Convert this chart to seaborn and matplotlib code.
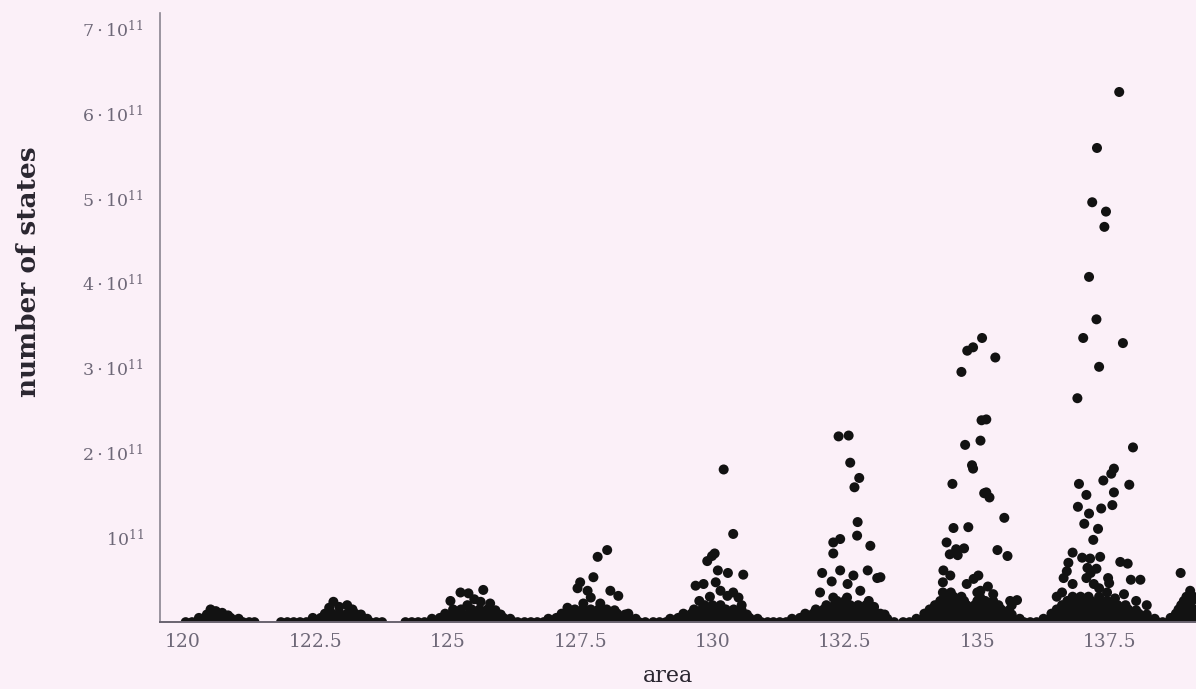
import matplotlib
matplotlib.use("Agg")
import matplotlib.pyplot as plt
import seaborn as sns
import pandas as pd
from matplotlib.ticker import FuncFormatter

sns.set_style("white")
plt.rcParams["font.family"] = ["DejaVu Serif"]
plt.rcParams["mathtext.fontset"] = "dejavuserif"

# =====================================================
# DATA  (area, number of states / 1e11), one list per cluster
# =====================================================
c120 = [
    (120.05, 0), (120.17, 0), (120.29, 0), (120.41, 0), (120.53, 0), (120.65, 0),
    (120.77, 0), (120.89, 0), (121.01, 0), (121.13, 0), (121.25, 0), (121.35, 0),
    (120.3, .05), (120.45, .05), (120.6, .05), (120.75, .05), (120.9, .05), (121.05, .04),
    (120.45, .09), (120.58, .09), (120.72, .09), (120.85, .08),
    (120.52, .15), (120.62, .13), (120.74, .11),
]
c122 = [
    (121.85, 0), (121.97, 0), (122.09, 0), (122.21, 0), (122.33, 0), (122.45, 0),
    (122.57, 0), (122.69, 0), (122.81, 0), (122.93, 0), (123.05, 0), (123.17, 0),
    (123.29, 0), (123.41, 0), (123.53, 0), (123.65, 0), (123.76, 0),
    (122.45, .05), (122.6, .05), (122.75, .05), (122.9, .05), (123.05, .05),
    (123.2, .05), (123.35, .05), (123.48, .04),
    (122.68, .1), (122.82, .1), (122.96, .1), (123.1, .1), (123.25, .1), (123.36, .09),
    (122.84, .24), (122.76, .17), (122.95, .18), (123.1, .2), (123.2, .15),
]
c125 = [
    (124.2, 0), (124.32, 0), (124.44, 0), (124.56, 0), (124.68, 0), (124.8, 0),
    (124.92, 0), (125.04, 0), (125.16, 0), (125.28, 0), (125.4, 0), (125.52, 0),
    (125.64, 0), (125.76, 0), (125.88, 0), (126.0, 0), (126.12, 0), (126.24, 0), (126.32, 0),
    (124.7, .04), (124.85, .05), (125.0, .05), (125.15, .05), (125.3, .05), (125.45, .05),
    (125.6, .05), (125.75, .05), (125.9, .05), (126.05, .05), (126.18, .04),
    (124.95, .1), (125.1, .1), (125.25, .1), (125.4, .1), (125.55, .1), (125.7, .1),
    (125.85, .1), (126.0, .09),
    (125.1, .15), (125.25, .15), (125.45, .15), (125.6, .15), (125.75, .15), (125.9, .14),
    (125.67, .38), (125.24, .35), (125.39, .34), (125.05, .25), (125.62, .24),
    (125.8, .22), (125.37, .2), (125.5, .27),
]
c127 = [
    (126.45, 0), (126.57, 0), (126.69, 0), (126.81, 0), (126.93, 0), (127.05, 0),
    (127.17, 0), (127.29, 0), (127.41, 0), (127.53, 0), (127.65, 0), (127.77, 0),
    (127.89, 0), (128.01, 0), (128.13, 0), (128.25, 0), (128.37, 0), (128.49, 0),
    (128.61, 0), (128.73, 0),
    (126.9, .04), (127.05, .05), (127.2, .05), (127.35, .05), (127.5, .05), (127.65, .05),
    (127.8, .05), (127.95, .05), (128.1, .05), (128.25, .05), (128.4, .05), (128.55, .04),
    (127.15, .1), (127.3, .1), (127.45, .1), (127.6, .1), (127.75, .1), (127.9, .1),
    (128.05, .1), (128.2, .1), (128.35, .09),
    (127.4, .15), (127.55, .15), (127.7, .15), (127.85, .15), (128.0, .15), (128.15, .14),
    (128.01, .85), (127.83, .77), (127.75, .53), (127.5, .47), (127.45, .4),
    (127.64, .37), (128.07, .37), (128.22, .31), (127.7, .29), (127.88, .22),
    (127.26, .17), (127.56, .22), (128.41, .1),
]
c130 = [
    (128.88, 0), (129.0, 0), (129.12, 0), (129.24, 0), (129.36, 0), (129.48, 0),
    (129.6, 0), (129.72, 0), (129.84, 0), (129.96, 0), (130.08, 0), (130.2, 0),
    (130.32, 0), (130.44, 0), (130.56, 0), (130.68, 0), (130.8, 0), (130.92, 0), (131.04, 0),
    (129.2, .04), (129.35, .05), (129.5, .05), (129.65, .05), (129.8, .05), (129.95, .05),
    (130.1, .05), (130.25, .05), (130.4, .05), (130.55, .05), (130.7, .05), (130.85, .04),
    (129.45, .1), (129.6, .1), (129.75, .1), (129.9, .1), (130.05, .1), (130.2, .1),
    (130.35, .1), (130.5, .1), (130.65, .09),
    (129.65, .15), (129.8, .15), (129.95, .15), (130.1, .15), (130.25, .15), (130.4, .15),
    (130.55, .14), (129.85, .2), (130.0, .2), (130.15, .2),
    (130.21, 1.80), (130.39, 1.04), (129.99, .78), (129.9, .72), (130.04, .81),
    (130.1, .61), (130.29, .58), (130.58, .56), (129.68, .43), (129.83, .45),
    (130.06, .47), (130.39, .35), (130.49, .29), (130.15, .37), (130.28, .31),
    (129.95, .3), (129.75, .25), (130.55, .2),
]
c132 = [
    (131.15, 0), (131.27, 0), (131.39, 0), (131.51, 0), (131.63, 0), (131.75, 0),
    (131.87, 0), (131.99, 0), (132.11, 0), (132.23, 0), (132.35, 0), (132.47, 0),
    (132.59, 0), (132.71, 0), (132.83, 0), (132.95, 0), (133.07, 0), (133.19, 0),
    (133.31, 0), (133.43, 0),
    (131.5, .04), (131.65, .05), (131.8, .05), (131.95, .05), (132.1, .05), (132.25, .05),
    (132.4, .05), (132.55, .05), (132.7, .05), (132.85, .05), (133.0, .05), (133.15, .05),
    (133.3, .04),
    (131.75, .1), (131.9, .1), (132.05, .1), (132.2, .1), (132.35, .1), (132.5, .1),
    (132.65, .1), (132.8, .1), (132.95, .1), (133.1, .1), (133.25, .09),
    (131.95, .15), (132.1, .15), (132.25, .15), (132.4, .15), (132.55, .15), (132.7, .15),
    (132.85, .15), (133.0, .15),
    (132.15, .2), (132.3, .2), (132.45, .2), (132.6, .2), (132.75, .2), (132.9, .2),
    (133.05, .18), (132.35, .25), (132.5, .25), (132.95, .25),
    (132.38, 2.19), (132.57, 2.20), (132.6, 1.88), (132.77, 1.70), (132.68, 1.59),
    (132.74, 1.18), (132.28, .94), (132.41, .98), (132.73, 1.02), (132.98, .9),
    (132.28, .81), (132.07, .58), (132.41, .61), (132.66, .55), (132.93, .61),
    (133.11, .52), (133.17, .53), (132.79, .37), (132.03, .35), (132.28, .29),
    (132.54, .29), (133.04, .17), (133.17, .1), (132.55, .45), (132.25, .48),
]
c135 = [
    (133.6, 0), (133.72, 0), (133.84, 0), (133.96, 0), (134.08, 0), (134.2, 0),
    (134.32, 0), (134.44, 0), (134.56, 0), (134.68, 0), (134.8, 0), (134.92, 0),
    (135.04, 0), (135.16, 0), (135.28, 0), (135.4, 0), (135.52, 0), (135.64, 0),
    (135.76, 0), (135.88, 0),
    (133.85, .04), (134.0, .05), (134.15, .05), (134.3, .05), (134.45, .05), (134.6, .05),
    (134.75, .05), (134.9, .05), (135.05, .05), (135.2, .05), (135.35, .05), (135.5, .05),
    (135.65, .05), (135.8, .04),
    (134.0, .1), (134.15, .1), (134.3, .1), (134.45, .1), (134.6, .1), (134.75, .1),
    (134.9, .1), (135.05, .1), (135.2, .1), (135.35, .1), (135.5, .1), (135.65, .09),
    (134.1, .15), (134.25, .15), (134.4, .15), (134.55, .15), (134.7, .15), (134.85, .15),
    (135.0, .15), (135.15, .15), (135.3, .15), (135.45, .15), (135.6, .14),
    (134.2, .2), (134.35, .2), (134.5, .2), (134.65, .2), (134.8, .2), (134.95, .2),
    (135.1, .2), (135.25, .2), (135.4, .2),
    (134.3, .25), (134.45, .25), (134.6, .25), (134.75, .25), (135.0, .25), (135.15, .25),
    (135.3, .25), (134.4, .3), (134.55, .3), (134.7, .3), (135.05, .3),
    (134.35, .35), (134.5, .35), (135.0, .35),
    (135.09, 3.35), (134.92, 3.24), (134.81, 3.20), (135.34, 3.12), (134.70, 2.95),
    (135.08, 2.38), (135.17, 2.39), (134.77, 2.09), (135.06, 2.14), (134.9, 1.85),
    (134.92, 1.81), (134.53, 1.63), (135.17, 1.53), (135.23, 1.47), (135.13, 1.52),
    (135.51, 1.23), (134.55, 1.11), (134.83, 1.12), (134.42, .94), (134.6, .86),
    (134.75, .87), (134.48, .8), (134.63, .79), (135.38, .85), (135.57, .78),
    (134.36, .61), (134.49, .55), (134.93, .51), (135.02, .55), (135.75, .26),
    (135.65, .2), (135.62, .25), (134.35, .47), (134.8, .45), (135.2, .42),
    (135.06, .37), (135.3, .33),
]
c137 = [
    (136.0, 0), (136.12, 0), (136.24, 0), (136.36, 0), (136.48, 0), (136.6, 0),
    (136.72, 0), (136.84, 0), (136.96, 0), (137.08, 0), (137.2, 0), (137.32, 0),
    (137.44, 0), (137.56, 0), (137.68, 0), (137.8, 0), (137.92, 0), (138.04, 0),
    (138.16, 0), (138.28, 0), (138.4, 0),
    (136.25, .04), (136.4, .05), (136.55, .05), (136.7, .05), (136.85, .05), (137.0, .05),
    (137.15, .05), (137.3, .05), (137.45, .05), (137.6, .05), (137.75, .05), (137.9, .05),
    (138.05, .05), (138.2, .05), (138.35, .04),
    (136.4, .1), (136.55, .1), (136.7, .1), (136.85, .1), (137.0, .1), (137.15, .1),
    (137.3, .1), (137.45, .1), (137.6, .1), (137.75, .1), (137.9, .1), (138.05, .1),
    (138.2, .09),
    (136.5, .15), (136.65, .15), (136.8, .15), (136.95, .15), (137.1, .15), (137.25, .15),
    (137.4, .15), (137.55, .15), (137.7, .15), (137.85, .15), (138.0, .14),
    (136.6, .2), (136.75, .2), (136.9, .2), (137.05, .2), (137.2, .2), (137.35, .2),
    (137.5, .2), (137.65, .2), (137.8, .2),
    (136.7, .25), (136.85, .25), (137.0, .25), (137.15, .25), (137.3, .25), (137.45, .25),
    (136.8, .3), (136.95, .3), (137.1, .3), (137.3, .3),
    (137.68, 6.25), (137.26, 5.59), (137.17, 4.95), (137.43, 4.84), (137.40, 4.66),
    (137.11, 4.07), (137.25, 3.57), (137.0, 3.35), (137.75, 3.29), (137.30, 3.01),
    (136.89, 2.64), (137.94, 2.06), (137.58, 1.81), (137.53, 1.75), (136.92, 1.63),
    (137.38, 1.67), (137.87, 1.62), (137.06, 1.50), (137.58, 1.53), (136.9, 1.36),
    (137.11, 1.28), (137.34, 1.34), (137.55, 1.38), (137.02, 1.16), (137.28, 1.10),
    (137.19, .97), (136.8, .82), (136.98, .76), (137.13, .75), (136.72, .70),
    (137.08, .64), (137.32, .77), (137.7, .71), (137.84, .69), (136.69, .6),
    (136.63, .52), (137.14, .58), (137.06, .52), (137.25, .63), (137.47, .52),
    (137.49, .46), (137.9, .5), (138.08, .5), (137.77, .33), (137.2, .45),
    (137.3, .4), (136.8, .45), (136.6, .35), (136.5, .3), (137.45, .35),
    (137.6, .28), (138.0, .25), (138.2, .2),
]
c139 = [
    (138.5, 0), (138.62, 0), (138.74, 0), (138.86, 0), (138.98, 0), (139.1, 0),
    (138.65, .05), (138.8, .05), (138.95, .05), (139.08, .05),
    (138.75, .1), (138.9, .1), (139.05, .1),
    (138.8, .15), (138.95, .15), (139.1, .15),
    (138.85, .2), (139.0, .2), (138.9, .25), (139.05, .25),
    (138.95, .3), (139.08, .3), (139.02, .37),
    (138.84, .58),
]

x_ticks = [120, 122.5, 125, 127.5, 130, 132.5, 135, 137.5]
x_tick_labels = ["120", "122.5", "125", "127.5", "130", "132.5", "135", "137.5"]
y_ticks = [1, 2, 3, 4, 5, 6, 7]  # in units of 1e11

clusters = [c120, c122, c125, c127, c130, c132, c135, c137, c139]
df = pd.DataFrame([p for c in clusters for p in c], columns=["area", "states_e11"])
df["states"] = df["states_e11"] * 1e11

# =====================================================
# FIGURE
# =====================================================
BG = "#fbf0f8"
fig = plt.figure(figsize=(11.96, 6.89), dpi=100)
fig.patch.set_facecolor(BG)
ax = fig.add_axes([0.134, 0.097, 0.866, 0.884])
ax.set_facecolor(BG)

sns.scatterplot(data=df, x="area", y="states", color="#121212", s=52,
                edgecolor="none", linewidth=0, ax=ax, legend=False)

ax.set_xlim(119.57, 139.13)
ax.set_ylim(0, 7.18e11)

ax.set_xticks(x_ticks)
ax.set_xticklabels(x_tick_labels)
ax.set_yticks([v * 1e11 for v in y_ticks])


def fmt_states(v, pos):
    k = int(round(v / 1e11))
    if k == 1:
        return r"$10^{11}$"
    return r"$%d\cdot10^{11}$" % k


ax.yaxis.set_major_formatter(FuncFormatter(fmt_states))

for side in ["top", "right"]:
    ax.spines[side].set_visible(False)
ax.spines["left"].set_color("#8a8490")
ax.spines["bottom"].set_color("#6a6470")
ax.spines["left"].set_linewidth(1.2)
ax.spines["bottom"].set_linewidth(1.4)

ax.tick_params(axis="y", direction="in", length=6, width=1, color="#b8b0bc",
               labelsize=12.5, labelcolor="#6e6878", pad=12)
ax.tick_params(axis="x", direction="in", length=0, labelsize=13.5,
               labelcolor="#6e6878", pad=8)

ax.set_xlabel("area", fontsize=16, color="#2a2630")
ax.set_ylabel("number of states", fontsize=19, fontweight="bold", color="#2a2630")
ax.yaxis.set_label_coords(-0.115, 0.575)
ax.xaxis.set_label_coords(0.49, -0.07)

plt.savefig("out.png", dpi=100, facecolor=BG)
